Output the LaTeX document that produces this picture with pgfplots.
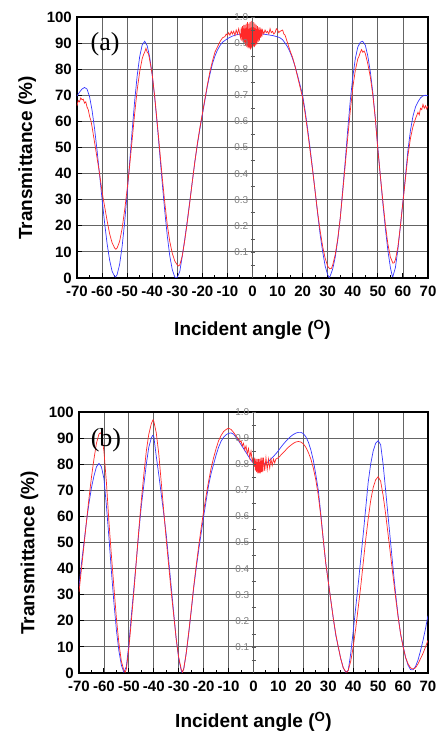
\documentclass[border=0pt]{standalone}
\usepackage{pgfplots}
\pgfplotsset{compat=1.18}
\usepackage{fontspec}
\setmainfont{Liberation Sans}
\newfontfamily\timesfont{Liberation Serif}
\definecolor{cblue}{RGB}{55,55,255}
\definecolor{cred}{RGB}{255,40,40}
\definecolor{gridc}{RGB}{100,100,100}
\pgfplotsset{
 mainax/.style={width=351pt,height=261pt,scale only axis,
  xmin=-70,xmax=70,ymin=0,ymax=100,
  xtick={-70,-60,...,70},
  xticklabels={-70,-60,-50,-40,-30,-20,-10,0,10,20,30,40,50,60,70},
  ytick={0,10,...,100},
  yticklabels={0,10,20,30,40,50,60,70,80,90,100},
  minor x tick num=1, tick pos=left,
  grid=major, major grid style={gridc,line width=0.85pt},
  axis line style={line width=1.3pt},
  tick style={black,line width=1pt}, major tick length=5pt, minor tick length=3pt,
  ticklabel style={font=\fontsize{15}{15}\selectfont\bfseries},
  xticklabel style={inner sep=0.5pt,yshift=-7.5pt},
  yticklabel style={inner ysep=0pt,inner xsep=5pt},
  ylabel={Transmittance (\%)},
  xlabel={Incident angle (\textsuperscript{O})},
  label style={font=\fontsize{19}{19}\selectfont\bfseries},
  ylabel style={at={(axis description cs:-0.142,0.46)},anchor=center},
 },
 innerax/.style={width=351pt,height=261pt,scale only axis,
  xmin=-70,xmax=70,ymin=0,ymax=1,
  axis x line=none, axis y line=middle,
  axis line style={-,gray!70!black,line width=0.6pt},
  ytick={0.1,0.2,0.3,0.4,0.5,0.6,0.7,0.8,0.9,1.0},
  yticklabels={0.1,0.2,0.3,0.4,0.5,0.6,0.7,0.8,0.9,1.0},
  minor ytick={0.05,0.15,0.25,0.35,0.45,0.55,0.65,0.75,0.85,0.95},
  tick style={gray!70!black,line width=0.6pt}, major tick length=4pt, minor tick length=4pt,
  yticklabel style={font=\fontsize{10}{10}\selectfont,text=gray,inner sep=2pt},
 },
 cb/.style={cblue,line width=0.7pt},
 cr/.style={cred,line width=0.7pt},
}
\begin{document}
\begin{tikzpicture}
\useasboundingbox (0,0) rectangle (442pt,734pt);
% ---------- panel (a)
\begin{axis}[mainax, at={(77pt,456pt)}, anchor=south west,
  xlabel style={at={(axis description cs:0.5,-0.2)},anchor=center}]
\addplot[cb] coordinates {(-70,69.7)(-69,71.2)(-68,72.4)(-67,73)(-66,72.4)(-65,69.5)(-64,64.3)(-63,57.3)(-62,48.9)(-61,39.6)(-60,30.2)(-59,21.2)(-58,13.2)(-57,6.9)(-56,2.6)(-55,0.6)(-54.6,0.4)(-54,1.3)(-53,5.2)(-52,12.1)(-51,21.3)(-50,32.3)(-49,44.3)(-48,56.5)(-47,67.8)(-46,77.5)(-45,84.8)(-44,89.3)(-43,90.7)(-42,89)(-41,84.6)(-40,77.8)(-39,69)(-38,58.7)(-37,47.6)(-36,36.4)(-35,25.7)(-34,16.2)(-33,8.5)(-32,3.2)(-31,0.4)(-30.5,0.1)(-30,0.3)(-29,2.5)(-28,8.5)(-27,15)(-26,22)(-25,29.5)(-24,37)(-23,44.5)(-22,51)(-21,57)(-20,62.5)(-19,68)(-18,73.5)(-17,78)(-16,82)(-15,85)(-14,87.3)(-13,89)(-12,90.3)(-11,91)(-10,91.7)(-9,92.2)(-8,92.7)(-6,93.3)(-4,93.6)(-2,93.8)(0,93.8)(2,93.7)(4,93.5)(6,93.2)(8,92.9)(10,92.4)(11,92)(12,91.3)(13,90)(14,88.5)(15,86.5)(16,84)(17,81)(18,77.5)(19,73.8)(20,70)(21,64)(22,57)(23,49.5)(24,41.5)(25,33)(26,24.5)(27,16.5)(28,10)(29,4.5)(30,1.2)(30.6,0.2)(31,0.8)(32,3.5)(33,8)(34,14.5)(35,23)(36,34)(37,45)(38,57)(39,68)(40,77)(41,84)(42,88.5)(43,90.3)(43.8,90.7)(44,90.6)(45,89.2)(46,85)(47,79)(48,71)(49,61)(50,50)(51,39)(52,28.5)(53,19)(54,10.5)(55,4)(55.8,0.5)(56,0.6)(57,4)(58,11)(59,20)(60,29.5)(61,39)(62,49)(63,56.5)(64,62)(65,65.5)(66,67.5)(67,69)(68,69.8)(69,70)(70,69.8)};
\addplot[cr] coordinates {(-70,66)(-69.5,68)(-69,67.5)(-68.5,69)(-68,68.3)(-67.5,68.5)(-67,67)(-66.5,67.5)(-66,65.5)(-65.5,64.5)(-65,62)(-64.5,60.5)(-64,58)(-63,52)(-62,46)(-61,40)(-60,33)(-59,27.5)(-58,22)(-57,17)(-56,13.5)(-55,11.5)(-54.5,11)(-54,11.5)(-53,14)(-52,19)(-51,26)(-50,34)(-49,43)(-48,53)(-47,63)(-46,72)(-45,79)(-44,84)(-43.5,85.5)(-43,86.5)(-42.5,88)(-42,86.5)(-41.5,86)(-41,83.5)(-40,78)(-39,69.5)(-38,59.5)(-37,49)(-36,38.5)(-35,29)(-34,20.5)(-33,14)(-32,9.5)(-31,6.5)(-30,5)(-29.5,4.6)(-29,5)(-28,8.5)(-27,14.5)(-26,21.5)(-25,29)(-24,37)(-23,44.5)(-22,51.5)(-21,57.5)(-20,63)(-19,68.5)(-18,74)(-17,79)(-16,83)(-15,86.5)(-14,88.5)(-13,90.5)(-12,92)(-11,92.5)(-10.5,93.5)(-10,93)(-9.5,94)(-9,93)(-8.5,94.5)(-8,93.5)(-7.5,94.5)(-7,93)(-6.5,95)(-6,93.5)(-5.5,95.5)(-5,93)(-4.75,92)(-4.5,96)(-4.25,91)(-4,96.5)(-3.75,90.5)(-3.5,97)(-3.25,90)(-3,97)(-2.75,89)(-2.5,97.5)(-2.25,88.5)(-2,98)(-1.75,88)(-1.5,97.5)(-1.25,88)(-1,98)(-0.75,87.5)(-0.5,98.5)(-0.25,88)(0,98.5)(0.25,88.5)(0.5,98)(0.75,88.5)(1,97.5)(1.25,89)(1.5,97)(1.75,89.5)(2,96.5)(2.25,90.5)(2.5,96)(2.75,91)(3,96)(3.25,92)(3.5,95.5)(3.75,92.5)(4,95)(4.5,93.5)(5,95)(5.5,94)(6,94.5)(6.5,93.5)(7,95.5)(7.5,94)(8,94.5)(8.5,93.5)(9,94)(9.5,95.5)(10,95)(10.5,94)(11,94.5)(12,95)(12.5,93.5)(13,93)(14,90)(15,87)(16,84.5)(17,81)(18,77)(19,73)(20,69)(21,63)(22,56)(23,48.5)(24,41)(25,33)(26,25)(27,18)(28,12)(29,7.5)(30,4.5)(30.8,3.5)(31.5,3.7)(32,5)(33,9)(34,15)(35,23)(36,33)(37,43.5)(38,54)(39,64)(40,73)(41,79.5)(42,84)(42.5,85)(43,86.5)(43.5,87.5)(44,86.5)(44.5,87)(45,86)(45.5,84)(46,82)(47,77)(48,70)(49,61)(50,49)(51,39)(52,29.5)(53,20.5)(54,13)(55,8)(56,5.7)(56.5,5.8)(57,7)(58,12)(59,20)(60,29)(61,38)(62,47)(63,53.5)(64,58)(65,61)(66,63.5)(66.5,62.5)(67,65)(67.5,64.5)(68,66.5)(68.5,65)(69,66)(69.5,64.8)(70,66)};
\node[font=\timesfont\fontsize{26}{26}\selectfont] at (axis cs:-58.8,89.7) {(a)};
\end{axis}
\begin{axis}[innerax, at={(77pt,456pt)}, anchor=south west]
\end{axis}
% ---------- panel (b)
\begin{axis}[mainax, at={(79pt,61pt)}, anchor=south west, width=349pt,
  xlabel style={at={(axis description cs:0.5,-0.188)},anchor=center}]
\addplot[cb] coordinates {(-70,33)(-69,42)(-68,50)(-67,58)(-66,65)(-65,71)(-64,75.5)(-63,79)(-62,80.3)(-61,79)(-60,74.5)(-59,64)(-58,52)(-57,39)(-56,27)(-55,16.5)(-54,8.5)(-53,3)(-52,0.3)(-51,2.5)(-50,11)(-49,22)(-48,32.5)(-47,43)(-46,54)(-45,64)(-44,72)(-43,80)(-42,86.5)(-41,90)(-40.5,91)(-40,90.7)(-39,83)(-38,76)(-37,68.5)(-36,61)(-35,53)(-34,43)(-33,33)(-32,23)(-31,13)(-30,5.5)(-29,1)(-28.7,0.2)(-28,1.5)(-27,7.5)(-26,15)(-25,23.5)(-24,32.5)(-23,40)(-22,47)(-21,53.5)(-20,60)(-19,66)(-18,72)(-17,76.5)(-16,80)(-15,83.5)(-14,86.5)(-13,88.8)(-12,90.3)(-11,91.3)(-10,91.8)(-9,92)(-8,91.5)(-7,90.3)(-6,89)(-5,87.5)(-4,86)(-3,84.5)(-2,83)(-1,81.5)(0,80.5)(1,80)(2,79.8)(3,79.8)(4,80)(5,80.4)(6,81)(7,82)(8,83)(9,84)(10,85.2)(11,86.5)(12,87.7)(13,88.8)(14,89.8)(15,90.7)(16,91.4)(17,91.9)(18,92.2)(19,92.2)(20,91.7)(21,90.5)(22,88.5)(23,85.5)(24,81.5)(25,76)(26,70)(27,61)(28,51)(29,42)(30,35)(31,28)(32,21)(33,14.5)(34,10)(35,5.5)(36,2)(37,0.3)(38,1)(39,7.5)(40,16)(41,25)(42,34)(43,43.5)(44,53)(45,63)(46,73)(47,80)(48,85)(49,88)(50,89)(51,87.5)(52,80)(53,70)(54,60)(55,50)(56,40)(57,30.5)(58,22)(59,15)(60,10.5)(61,6)(62,3)(63,1.3)(64,1.2)(65,2.5)(66,5)(67,8.5)(68,12.5)(69,17)(70,22)};
\addplot[cr] coordinates {(-70,31)(-69,40)(-68,49)(-67,58)(-66,67)(-65,75)(-64,82)(-63,88)(-62,91.5)(-61.5,92)(-61,91.5)(-60,85)(-59,73)(-58,58)(-57,45)(-56,33)(-55,21)(-54,11.5)(-53,4.5)(-52,1)(-51.5,0.3)(-51,1.5)(-50,9.5)(-49,20)(-48,31)(-47,43)(-46,55)(-45,66)(-44,76)(-43,85)(-42,91.5)(-41,95.5)(-40.3,97)(-40,96.5)(-39,92)(-38,84)(-37,73)(-36,62)(-35,51)(-34,41)(-33,31)(-32,22)(-31,13)(-30,6)(-29,1.5)(-28.5,0.3)(-28,1.5)(-27,7.5)(-26,15.5)(-25,24)(-24,33)(-23,41)(-22,48.5)(-21,55.5)(-20,62)(-19,68)(-18,73.5)(-17,78.5)(-16,82.5)(-15,86)(-14,89)(-13,91)(-12,92.5)(-11,93.3)(-10,93.8)(-9,93.3)(-8,92.2)(-7,90.8)(-6,89.5)(-5.5,88.5)(-5,89)(-4.5,87)(-4,88)(-3.5,85.5)(-3,87)(-2.5,84)(-2,86)(-1.5,82.5)(-1,85)(-0.5,81)(0,83)(0.25,79)(0.5,82.5)(0.75,77.5)(1,82)(1.25,77)(1.5,82)(1.75,76.5)(2,82)(2.25,76.5)(2.5,82)(2.75,76.5)(3,82.5)(3.25,77)(3.5,82.5)(3.75,77)(4,82.5)(4.5,77.5)(5,82.5)(5.5,78)(6,82)(6.5,78.5)(7,82)(7.5,79.5)(8,82)(8.5,80.5)(9,82)(10,82.5)(11,83.5)(12,84.5)(13,85.5)(14,86.5)(15,87.3)(16,88)(17,88.5)(18,88.7)(19,88.5)(20,87.8)(21,86.5)(22,84.5)(23,82)(24,78.5)(25,74)(26,68)(27,60)(28,51)(29,42)(30,35)(31,28)(32,21)(33,15)(34,10)(35,5.5)(36,2)(37,0.5)(37.5,0.3)(38,1)(39,4.5)(40,10)(41,17)(42,25)(43,33)(44,42)(45,51)(46,59)(47,66)(48,71)(49,74)(50,75.2)(51,73.5)(52,68)(53,61)(54,53)(55,45)(56,37)(57,29)(58,21.5)(59,15)(60,10)(61,6)(62,3.5)(63,2)(64,1.5)(65,2)(66,3.5)(67,5.5)(68,7.5)(69,10)(70,12.5)};
\node[font=\timesfont\fontsize{26}{26}\selectfont] at (axis cs:-59.2,89.3) {(b)};
\end{axis}
\begin{axis}[innerax, at={(79pt,61pt)}, anchor=south west, width=349pt]
\end{axis}
\end{tikzpicture}
\end{document}
